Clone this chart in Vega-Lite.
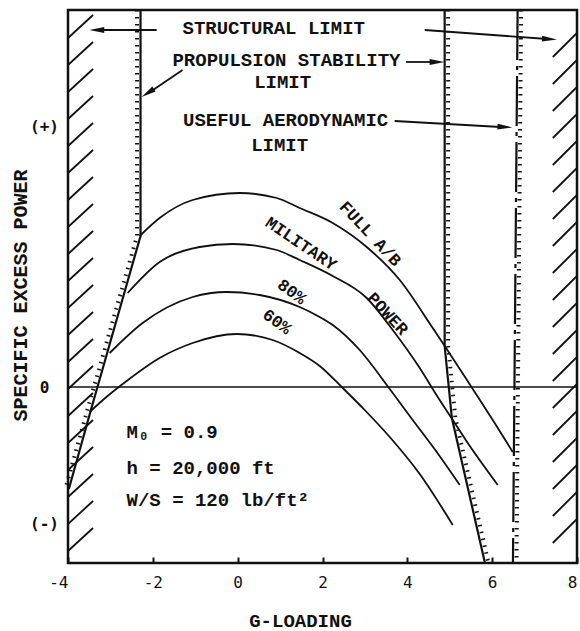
{
  "$schema": "https://vega.github.io/schema/vega-lite/v6.json",
  "width": 509,
  "height": 553,
  "autosize": {"type": "none"},
  "padding": {"left": 68, "top": 10, "right": 3, "bottom": 68},
  "background": "white",
  "config": {"view": {"stroke": "#111", "strokeWidth": 2.5}, "axis": {"grid": false}},
  "datasets": {
    "curves": [
      {"c": "full", "o": 1, "g": -2.311, "p": 1.51},
      {"c": "full", "o": 2, "g": -1.84, "p": 1.69},
      {"c": "full", "o": 3, "g": -1.061, "p": 1.87},
      {"c": "full", "o": 4, "g": 0.047, "p": 1.94},
      {"c": "full", "o": 5, "g": 0.92, "p": 1.89},
      {"c": "full", "o": 6, "g": 1.462, "p": 1.79},
      {"c": "full", "o": 7, "g": 2.241, "p": 1.64},
      {"c": "full", "o": 8, "g": 3.042, "p": 1.4},
      {"c": "full", "o": 9, "g": 3.821, "p": 1.07},
      {"c": "full", "o": 10, "g": 4.599, "p": 0.59},
      {"c": "full", "o": 11, "g": 4.882, "p": 0.41},
      {"c": "full", "o": 12, "g": 5.542, "p": -0.02},
      {"c": "full", "o": 13, "g": 6.014, "p": -0.33},
      {"c": "full", "o": 14, "g": 6.486, "p": -0.65},
      {"c": "mil", "o": 1, "g": -2.594, "p": 0.94},
      {"c": "mil", "o": 2, "g": -1.84, "p": 1.25},
      {"c": "mil", "o": 3, "g": -0.896, "p": 1.4},
      {"c": "mil", "o": 4, "g": -0.118, "p": 1.43},
      {"c": "mil", "o": 5, "g": 0.92, "p": 1.37},
      {"c": "mil", "o": 6, "g": 1.462, "p": 1.27},
      {"c": "mil", "o": 7, "g": 2.241, "p": 1.11},
      {"c": "mil", "o": 8, "g": 3.042, "p": 0.89},
      {"c": "mil", "o": 9, "g": 3.656, "p": 0.57},
      {"c": "mil", "o": 10, "g": 4.292, "p": 0.19},
      {"c": "mil", "o": 11, "g": 4.717, "p": -0.1},
      {"c": "mil", "o": 12, "g": 5.071, "p": -0.33},
      {"c": "mil", "o": 13, "g": 5.377, "p": -0.53},
      {"c": "mil", "o": 14, "g": 6.132, "p": -0.98},
      {"c": "p80", "o": 1, "g": -3.019, "p": 0.34},
      {"c": "p80", "o": 2, "g": -2.241, "p": 0.64},
      {"c": "p80", "o": 3, "g": -1.061, "p": 0.9},
      {"c": "p80", "o": 4, "g": -0.259, "p": 0.95},
      {"c": "p80", "o": 5, "g": 0.519, "p": 0.92},
      {"c": "p80", "o": 6, "g": 1.462, "p": 0.8},
      {"c": "p80", "o": 7, "g": 1.934, "p": 0.7},
      {"c": "p80", "o": 8, "g": 2.241, "p": 0.62},
      {"c": "p80", "o": 9, "g": 2.877, "p": 0.37},
      {"c": "p80", "o": 10, "g": 3.585, "p": -0.02},
      {"c": "p80", "o": 11, "g": 4.127, "p": -0.33},
      {"c": "p80", "o": 12, "g": 4.693, "p": -0.65},
      {"c": "p80", "o": 13, "g": 5.236, "p": -0.98},
      {"c": "p60", "o": 1, "g": -3.491, "p": -0.25},
      {"c": "p60", "o": 2, "g": -3.066, "p": -0.09},
      {"c": "p60", "o": 3, "g": -2.618, "p": 0.06},
      {"c": "p60", "o": 4, "g": -1.84, "p": 0.29},
      {"c": "p60", "o": 5, "g": -1.061, "p": 0.44},
      {"c": "p60", "o": 6, "g": -0.024, "p": 0.53},
      {"c": "p60", "o": 7, "g": 0.825, "p": 0.47},
      {"c": "p60", "o": 8, "g": 1.462, "p": 0.34},
      {"c": "p60", "o": 9, "g": 1.934, "p": 0.21},
      {"c": "p60", "o": 10, "g": 2.476, "p": -0.01},
      {"c": "p60", "o": 11, "g": 2.995, "p": -0.23},
      {"c": "p60", "o": 12, "g": 3.585, "p": -0.5},
      {"c": "p60", "o": 13, "g": 4.292, "p": -0.87},
      {"c": "p60", "o": 14, "g": 5.071, "p": -1.38}
    ],
    "limits": [
      {"l": "pl", "o": 1, "g": -2.29, "p": 3.77},
      {"l": "pl", "o": 2, "g": -2.29, "p": 1.51},
      {"l": "pl", "o": 3, "g": -3.44, "p": -0.2},
      {"l": "pl", "o": 4, "g": -3.98, "p": -1.02},
      {"l": "pr", "o": 1, "g": 4.88, "p": 3.77},
      {"l": "pr", "o": 2, "g": 4.88, "p": 0.41},
      {"l": "pr", "o": 3, "g": 5.05, "p": -0.31},
      {"l": "pr", "o": 4, "g": 5.83, "p": -1.76},
      {"l": "ua", "o": 1, "g": 6.6, "p": 3.77},
      {"l": "ua", "o": 2, "g": 6.49, "p": -1.76}
    ],
    "hatch": [
      {"g": -4, "p": 3.49, "g2": -3.41, "p2": 3.72},
      {"g": -4, "p": 3.22, "g2": -3.41, "p2": 3.45},
      {"g": -4, "p": 2.95, "g2": -3.41, "p2": 3.18},
      {"g": -4, "p": 2.68, "g2": -3.41, "p2": 2.91},
      {"g": -4, "p": 2.41, "g2": -3.41, "p2": 2.64},
      {"g": -4, "p": 2.14, "g2": -3.41, "p2": 2.37},
      {"g": -4, "p": 1.87, "g2": -3.41, "p2": 2.1},
      {"g": -4, "p": 1.6, "g2": -3.41, "p2": 1.83},
      {"g": -4, "p": 1.33, "g2": -3.41, "p2": 1.56},
      {"g": -4, "p": 1.06, "g2": -3.41, "p2": 1.29},
      {"g": -4, "p": 0.79, "g2": -3.41, "p2": 1.02},
      {"g": -4, "p": 0.52, "g2": -3.41, "p2": 0.75},
      {"g": -4, "p": 0.25, "g2": -3.41, "p2": 0.48},
      {"g": -4, "p": -0.02, "g2": -3.41, "p2": 0.21},
      {"g": -4, "p": -0.29, "g2": -3.41, "p2": -0.06},
      {"g": -4, "p": -0.56, "g2": -3.41, "p2": -0.33},
      {"g": -4, "p": -0.83, "g2": -3.41, "p2": -0.6},
      {"g": -4, "p": -1.1, "g2": -3.41, "p2": -0.87},
      {"g": -4, "p": -1.37, "g2": -3.41, "p2": -1.14},
      {"g": -4, "p": -1.64, "g2": -3.41, "p2": -1.41},
      {"g": 7.43, "p": -1.56, "g2": 8.0, "p2": -1.32},
      {"g": 7.43, "p": -1.29, "g2": 8.0, "p2": -1.05},
      {"g": 7.43, "p": -1.02, "g2": 8.0, "p2": -0.78},
      {"g": 7.43, "p": -0.75, "g2": 8.0, "p2": -0.51},
      {"g": 7.43, "p": -0.48, "g2": 8.0, "p2": -0.24},
      {"g": 7.43, "p": -0.21, "g2": 8.0, "p2": 0.03},
      {"g": 7.43, "p": 0.06, "g2": 8.0, "p2": 0.3},
      {"g": 7.43, "p": 0.33, "g2": 8.0, "p2": 0.57},
      {"g": 7.43, "p": 0.6, "g2": 8.0, "p2": 0.84},
      {"g": 7.43, "p": 0.87, "g2": 8.0, "p2": 1.11},
      {"g": 7.43, "p": 1.14, "g2": 8.0, "p2": 1.38},
      {"g": 7.43, "p": 1.41, "g2": 8.0, "p2": 1.65},
      {"g": 7.43, "p": 1.68, "g2": 8.0, "p2": 1.92},
      {"g": 7.43, "p": 1.95, "g2": 8.0, "p2": 2.19},
      {"g": 7.43, "p": 2.22, "g2": 8.0, "p2": 2.46},
      {"g": 7.43, "p": 2.49, "g2": 8.0, "p2": 2.73},
      {"g": 7.43, "p": 2.76, "g2": 8.0, "p2": 3.0},
      {"g": 7.43, "p": 3.03, "g2": 8.0, "p2": 3.27},
      {"g": 7.43, "p": 3.3, "g2": 8.0, "p2": 3.54}
    ],
    "zero": [{"p": 0}],
    "arrows": [
      {"a": "sl", "g": -1.91, "p": 3.57, "g2": -3.35, "p2": 3.57},
      {"a": "sr", "g": 4.41, "p": 3.57, "g2": 7.3, "p2": 3.48},
      {"a": "pr", "g": 3.97, "p": 3.25, "g2": 4.7, "p2": 3.25},
      {"a": "pl", "g": -1.3, "p": 3.17, "g2": -2.1, "p2": 2.94},
      {"a": "ar", "g": 3.7, "p": 2.66, "g2": 6.2, "p2": 2.6}
    ],
    "heads": [
      {"a": "sl", "g": -3.32, "p": 3.57},
      {"a": "sr", "g": 7.35, "p": 3.48},
      {"a": "pr", "g": 4.7, "p": 3.25},
      {"a": "pl", "g": -2.12, "p": 2.94},
      {"a": "ar", "g": 6.3, "p": 2.6}
    ],
    "notes": [
      {"t": "STRUCTURAL LIMIT", "g": 0.85, "p": 3.595},
      {"t": "PROPULSION STABILITY", "g": 1.15, "p": 3.27},
      {"t": "LIMIT", "g": 1.06, "p": 3.05},
      {"t": "USEFUL AERODYNAMIC", "g": 1.13, "p": 2.67},
      {"t": "LIMIT", "g": 0.99, "p": 2.42}
    ],
    "params": [
      {"t": "M₀  = 0.9", "g": -2.62, "p": -0.45},
      {"t": "h   = 20,000 ft", "g": -2.62, "p": -0.81},
      {"t": "W/S = 120 lb/ft²", "g": -2.62, "p": -1.13}
    ],
    "clabels": [
      {"t": "FULL A/B", "g": 3.12, "p": 1.53},
      {"t": "MILITARY", "g": 1.49, "p": 1.43},
      {"t": "POWER", "g": 3.53, "p": 0.73},
      {"t": "80%", "g": 1.27, "p": 0.95},
      {"t": "60%", "g": 0.92, "p": 0.65}
    ]
  },
  "layer": [
    {
      "data": {"name": "hatch"},
      "mark": {"type": "rule", "stroke": "#111", "strokeWidth": 1.8, "clip": true},
      "encoding": {
        "x": {
          "field": "g", "type": "quantitative", "title": "G-LOADING",
          "scale": {"domain": [-4, 8], "nice": false, "zero": false},
          "axis": {
            "values": [-4, -2, 0, 2, 4, 6, 8], "domain": false, "grid": false,
            "ticks": true, "tickSize": -6, "tickWidth": 2, "tickColor": "#111",
            "labelPadding": 17, "labelFont": "DejaVu Sans Mono", "labelFontSize": 16,
            "labelColor": "#111", "labelFlush": false, "labelOverlap": false,
            "labelAlign": {"condition": {"test": "datum.value == 8 || datum.value == -4", "value": "right"}, "value": "center"},
            "labelExpr": "replace(datum.label, '−', '-')",
            "titleFont": "Liberation Mono", "titleFontWeight": "bold", "titleFontSize": 19,
            "titleColor": "#111", "titleX": 232, "titleY": 57, "titleBaseline": "middle", "titleAlign": "center"
          }
        },
        "y": {
          "field": "p", "type": "quantitative", "title": "SPECIFIC EXCESS POWER",
          "scale": {"domain": [-1.76, 3.77], "nice": false, "zero": false},
          "axis": {
            "values": [-1.36, 0, 2.61], "domain": false, "ticks": false, "grid": false,
            "labelExpr": "datum.value > 1 ? '(+)' : (datum.value < -1 ? '(-)' : '0')",
            "labelAlign": "center", "labelBaseline": "middle", "labelPadding": 24,
            "labelFont": "DejaVu Sans Mono", "labelFontWeight": "bold", "labelFontSize": 16,
            "labelColor": "#111", "labelOverlap": false,
            "titleFont": "Liberation Mono", "titleFontWeight": "bold", "titleFontSize": 20,
            "titleColor": "#111", "titleX": -48, "titleY": 285, "titleAngle": 270,
            "titleBaseline": "middle", "titleAlign": "center"
          }
        },
        "x2": {"field": "g2"},
        "y2": {"field": "p2"}
      }
    },
    {
      "data": {"name": "zero"},
      "mark": {"type": "rule", "stroke": "#111", "strokeWidth": 1.6},
      "encoding": {"y": {"field": "p", "type": "quantitative", "title": "SPECIFIC EXCESS POWER"}}
    },
    {
      "data": {"name": "curves"},
      "mark": {"type": "line", "stroke": "#111", "strokeWidth": 1.8, "interpolate": "monotone"},
      "encoding": {
        "x": {"field": "g", "type": "quantitative", "title": "G-LOADING"},
        "y": {"field": "p", "type": "quantitative", "title": "SPECIFIC EXCESS POWER"},
        "detail": {"field": "c"},
        "order": {"field": "o", "type": "quantitative"}
      }
    },
    {
      "data": {"name": "limits"},
      "transform": [{"filter": "datum.l != 'ua'"}],
      "mark": {"type": "line", "stroke": "#111", "strokeWidth": 2.2},
      "encoding": {
        "x": {"field": "g", "type": "quantitative", "title": "G-LOADING"},
        "y": {"field": "p", "type": "quantitative", "title": "SPECIFIC EXCESS POWER"},
        "detail": {"field": "l"},
        "order": {"field": "o", "type": "quantitative"}
      }
    },
    {
      "data": {"name": "limits"},
      "transform": [{"filter": "datum.l == 'ua'"}],
      "mark": {"type": "line", "stroke": "#111", "strokeWidth": 2.2, "strokeDash": [50, 6, 4, 6]},
      "encoding": {
        "x": {"field": "g", "type": "quantitative", "title": "G-LOADING"},
        "y": {"field": "p", "type": "quantitative", "title": "SPECIFIC EXCESS POWER"},
        "order": {"field": "o", "type": "quantitative"}
      }
    },
    {
      "data": {"name": "limits"},
      "transform": [{"filter": "datum.l == 'pl'"}],
      "mark": {"type": "line", "stroke": "#111", "strokeWidth": 4, "strokeDash": [1.5, 5.5], "xOffset": -3.5},
      "encoding": {
        "x": {"field": "g", "type": "quantitative", "title": "G-LOADING"},
        "y": {"field": "p", "type": "quantitative", "title": "SPECIFIC EXCESS POWER"},
        "order": {"field": "o", "type": "quantitative"}
      }
    },
    {
      "data": {"name": "limits"},
      "transform": [{"filter": "datum.l != 'pl'"}],
      "mark": {"type": "line", "stroke": "#111", "strokeWidth": 4, "strokeDash": [1.5, 5.5], "xOffset": 3.5},
      "encoding": {
        "x": {"field": "g", "type": "quantitative", "title": "G-LOADING"},
        "y": {"field": "p", "type": "quantitative", "title": "SPECIFIC EXCESS POWER"},
        "detail": {"field": "l"},
        "order": {"field": "o", "type": "quantitative"}
      }
    },
    {
      "data": {"name": "arrows"},
      "mark": {"type": "rule", "stroke": "#111", "strokeWidth": 1.8},
      "encoding": {
        "x": {"field": "g", "type": "quantitative", "title": "G-LOADING"},
        "y": {"field": "p", "type": "quantitative", "title": "SPECIFIC EXCESS POWER"},
        "x2": {"field": "g2"},
        "y2": {"field": "p2"}
      }
    },
    {
      "data": {"name": "heads"},
      "transform": [{"filter": "datum.a == 'sl'"}],
      "mark": {"type": "point", "shape": "M0,-1L0.4,1L-0.4,1Z", "filled": true, "fill": "#111", "opacity": 1, "size": 220, "angle": 270},
      "encoding": {
        "x": {"field": "g", "type": "quantitative", "title": "G-LOADING"},
        "y": {"field": "p", "type": "quantitative", "title": "SPECIFIC EXCESS POWER"}
      }
    },
    {
      "data": {"name": "heads"},
      "transform": [{"filter": "datum.a == 'sr' || datum.a == 'ar'"}],
      "mark": {"type": "point", "shape": "M0,-1L0.4,1L-0.4,1Z", "filled": true, "fill": "#111", "opacity": 1, "size": 220, "angle": 93},
      "encoding": {
        "x": {"field": "g", "type": "quantitative", "title": "G-LOADING"},
        "y": {"field": "p", "type": "quantitative", "title": "SPECIFIC EXCESS POWER"}
      }
    },
    {
      "data": {"name": "heads"},
      "transform": [{"filter": "datum.a == 'pr'"}],
      "mark": {"type": "point", "shape": "M0,-1L0.4,1L-0.4,1Z", "filled": true, "fill": "#111", "opacity": 1, "size": 220, "angle": 90},
      "encoding": {
        "x": {"field": "g", "type": "quantitative", "title": "G-LOADING"},
        "y": {"field": "p", "type": "quantitative", "title": "SPECIFIC EXCESS POWER"}
      }
    },
    {
      "data": {"name": "heads"},
      "transform": [{"filter": "datum.a == 'pl'"}],
      "mark": {"type": "point", "shape": "M0,-1L0.4,1L-0.4,1Z", "filled": true, "fill": "#111", "opacity": 1, "size": 220, "angle": 237},
      "encoding": {
        "x": {"field": "g", "type": "quantitative", "title": "G-LOADING"},
        "y": {"field": "p", "type": "quantitative", "title": "SPECIFIC EXCESS POWER"}
      }
    },
    {
      "data": {"name": "notes"},
      "mark": {"type": "text", "font": "Liberation Mono", "fontWeight": "bold", "fontSize": 19, "fill": "#111", "align": "center", "baseline": "middle"},
      "encoding": {
        "x": {"field": "g", "type": "quantitative", "title": "G-LOADING"},
        "y": {"field": "p", "type": "quantitative", "title": "SPECIFIC EXCESS POWER"},
        "text": {"field": "t"}
      }
    },
    {
      "data": {"name": "params"},
      "mark": {"type": "text", "font": "Liberation Mono", "fontWeight": "bold", "fontSize": 19, "fill": "#111", "align": "left", "baseline": "middle"},
      "encoding": {
        "x": {"field": "g", "type": "quantitative", "title": "G-LOADING"},
        "y": {"field": "p", "type": "quantitative", "title": "SPECIFIC EXCESS POWER"},
        "text": {"field": "t"}
      }
    },
    {
      "data": {"name": "clabels"},
      "transform": [{"filter": "datum.t == 'FULL A/B' || datum.t == 'POWER'"}],
      "mark": {"type": "text", "font": "Liberation Mono", "fontWeight": "bold", "fontSize": 17, "fill": "#111", "align": "center", "baseline": "middle", "angle": 47},
      "encoding": {
        "x": {"field": "g", "type": "quantitative", "title": "G-LOADING"},
        "y": {"field": "p", "type": "quantitative", "title": "SPECIFIC EXCESS POWER"},
        "text": {"field": "t"}
      }
    },
    {
      "data": {"name": "clabels"},
      "transform": [{"filter": "datum.t == 'MILITARY'"}],
      "mark": {"type": "text", "font": "Liberation Mono", "fontWeight": "bold", "fontSize": 17, "fill": "#111", "align": "center", "baseline": "middle", "angle": 34},
      "encoding": {
        "x": {"field": "g", "type": "quantitative", "title": "G-LOADING"},
        "y": {"field": "p", "type": "quantitative", "title": "SPECIFIC EXCESS POWER"},
        "text": {"field": "t"}
      }
    },
    {
      "data": {"name": "clabels"},
      "transform": [{"filter": "datum.t == '80%' || datum.t == '60%'"}],
      "mark": {"type": "text", "font": "Liberation Mono", "fontWeight": "bold", "fontSize": 17, "fill": "#111", "align": "center", "baseline": "middle", "angle": 36},
      "encoding": {
        "x": {"field": "g", "type": "quantitative", "title": "G-LOADING"},
        "y": {"field": "p", "type": "quantitative", "title": "SPECIFIC EXCESS POWER"},
        "text": {"field": "t"}
      }
    }
  ]
}
